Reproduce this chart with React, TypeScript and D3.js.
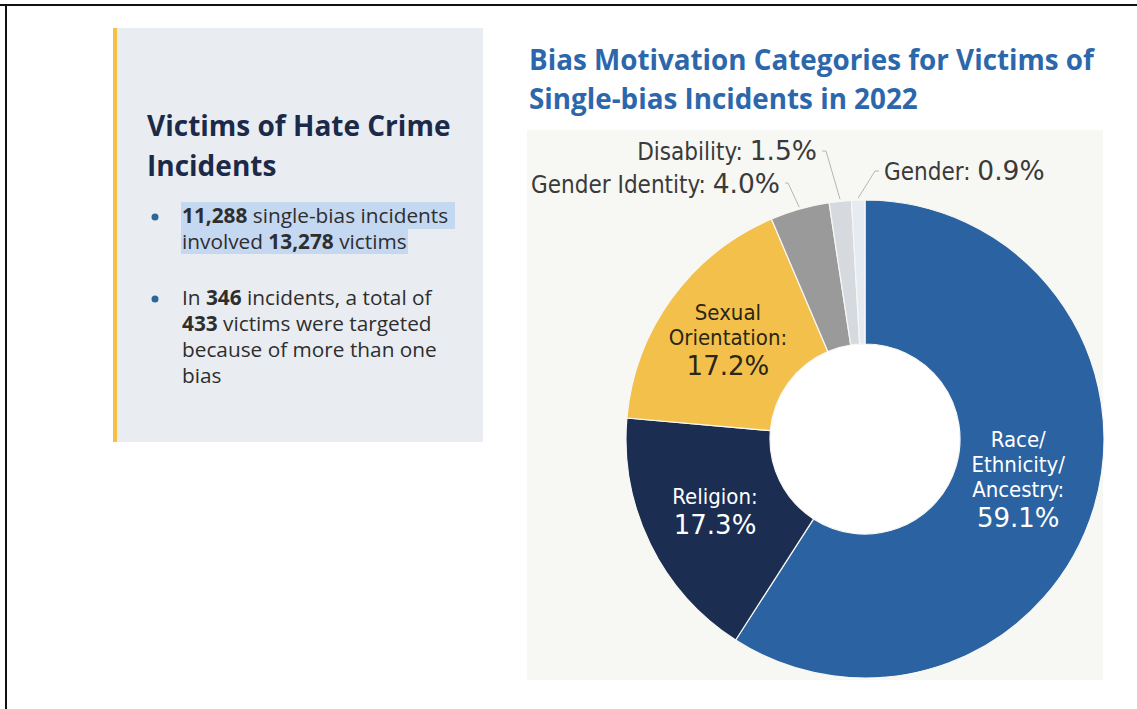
import React from 'react';
import * as d3 from 'd3';

// slices go clockwise from 12 o'clock
const categories = ['Race/Ethnicity/Ancestry', 'Religion', 'Sexual Orientation', 'Gender Identity', 'Disability', 'Gender'];
const shares = [59.1, 17.3, 17.2, 4.0, 1.5, 0.9];
const labelLines = [['Race/', 'Ethnicity/', 'Ancestry:'], ['Religion:'], ['Sexual', 'Orientation:'], ['Gender Identity:'], ['Disability:'], ['Gender:']];
const sliceColors = ['#2a62a2', '#1b2d50', '#f4c04c', '#9a9a9a', '#d6dadf', '#e6ebf2'];
const insideText = ['#ffffff', '#ffffff', '#2b2614'];

const title = ['Bias Motivation Categories for Victims of', 'Single-bias Incidents in 2022'];
const panelTitle = ['Victims of Hate Crime', 'Incidents'];

const W = 1137;
const H = 709;
const cx = 865;
const cy = 439;
const outerR = 239;
const innerR = 95;
const labelFont = '"DejaVu Sans Condensed", "DejaVu Sans", Verdana, sans-serif';
const numFont = '"DejaVu Sans", Verdana, sans-serif';
const uiFont = '"Open Sans", Inter, sans-serif';

// small nudges off the centroid for the inside labels
const nudge = [[-7, -6], [0, 0], [-2, 0]];

// outside label anchors (text end / start) for the three thin slices
const outside = [
  { idx: 3, x: 780, y: 193, anchor: 'end', elbow: [788, 183] },
  { idx: 4, x: 817, y: 160, anchor: 'end', elbow: [826, 151] },
  { idx: 5, x: 884, y: 180, anchor: 'start', elbow: [875, 171] },
];

const App: React.FC = () => {
  const pie = d3.pie<number>().sort(null).value(d => d)(shares);
  const arc = d3.arc<d3.PieArcDatum<number>>().innerRadius(innerR).outerRadius(outerR);
  const mid = d3.arc<d3.PieArcDatum<number>>().innerRadius((innerR + outerR) / 2).outerRadius((innerR + outerR) / 2);

  return (
    <svg width={W} height={H} style={{ position: 'absolute', left: 0, top: 0, background: '#fff' }}>
      {/* frame */}
      <line x1={0} x2={W} y1={5} y2={5} stroke="#111" strokeWidth={2} />
      <line x1={6} x2={6} y1={5} y2={H} stroke="#111" strokeWidth={2} />

      {/* left panel */}
      <rect x={113} y={28} width={370} height={414} fill="#e9edf2" />
      <rect x={113} y={28} width={4} height={414} fill="#f4c145" />
      {panelTitle.map((t, i) => (
        <text key={t} x={147} y={136 + i * 40} fontFamily={uiFont} fontSize={28} fontWeight={700} fill="#1c2a4a">{t}</text>
      ))}
      <rect x={181} y={202} width={274} height={27} fill="#c5d8f1" />
      <rect x={181} y={228} width={227} height={26} fill="#c5d8f1" />
      <g fontFamily={uiFont} fontSize={20.8} fill="#2e2e2e">
        <circle cx={155} cy={217} r={3.5} fill="#2c6796" />
        <text x={182} y={223}><tspan fontWeight={700}>11,288</tspan> single-bias incidents</text>
        <text x={182} y={249}>involved <tspan fontWeight={700}>13,278</tspan> victims</text>
        <circle cx={155} cy={299} r={3.5} fill="#2c6796" />
        <text x={182} y={305}>In <tspan fontWeight={700}>346</tspan> incidents, a total of</text>
        <text x={182} y={331}><tspan fontWeight={700}>433</tspan> victims were targeted</text>
        <text x={182} y={357}>because of more than one</text>
        <text x={182} y={383}>bias</text>
      </g>

      {/* chart */}
      {title.map((t, i) => (
        <text key={t} x={529} y={70 + i * 39} fontFamily={uiFont} fontSize={27.8} fontWeight={700} fill="#2c67ab">{t}</text>
      ))}
      <rect x={527} y={130} width={576} height={550} fill="#f7f7f4" />
      <circle cx={cx} cy={cy} r={innerR} fill="#ffffff" />
      <g transform={`translate(${cx},${cy})`}>
        {pie.map((d, i) => (
          <path key={categories[i]} d={arc(d) || ''} fill={sliceColors[i]} stroke="#f7f7f4" strokeWidth={1.2} />
        ))}
        {pie.slice(0, 3).map((d, i) => {
          const [mx0, my0] = mid.centroid(d);
          const mx = mx0 + nudge[i][0];
          const my = my0 + nudge[i][1];
          const lines = labelLines[i];
          const step = 25;
          const gap = 30;
          const total = (lines.length - 1) * step + gap;
          const top = my - total / 2 + 7;
          return (
            <text key={categories[i]} textAnchor="middle" fill={insideText[i]}>
              {lines.map((l, j) => (
                <tspan key={l} x={mx} y={top + j * step} fontSize={22} fontFamily={labelFont}>{l}</tspan>
              ))}
              <tspan x={mx} y={top + (lines.length - 1) * step + gap} fontSize={26} fontFamily={numFont}>{d3.format('.1f')(shares[i])}%</tspan>
            </text>
          );
        })}
      </g>

      {outside.map(o => {
        const d = pie[o.idx];
        const a = (d.startAngle + d.endAngle) / 2;
        const px = cx + (outerR + 2) * Math.sin(a);
        const py = cy - (outerR + 2) * Math.cos(a);
        const hx = o.anchor === 'end' ? o.x + 5 : o.x - 5;
        return (
          <g key={categories[o.idx]}>
            <polyline points={`${hx},${o.elbow[1]} ${o.elbow[0]},${o.elbow[1]} ${px},${py}`} fill="none" stroke="#b5b5b5" strokeWidth={1} />
            <text x={o.x} y={o.y} textAnchor={o.anchor as any} fill="#3a3a3a">
              <tspan fontSize={24} fontFamily={labelFont}>{labelLines[o.idx][0]} </tspan>
              <tspan fontSize={26.5} fontFamily={numFont}>{d3.format('.1f')(shares[o.idx])}%</tspan>
            </text>
          </g>
        );
      })}
    </svg>
  );
};

export default App;
